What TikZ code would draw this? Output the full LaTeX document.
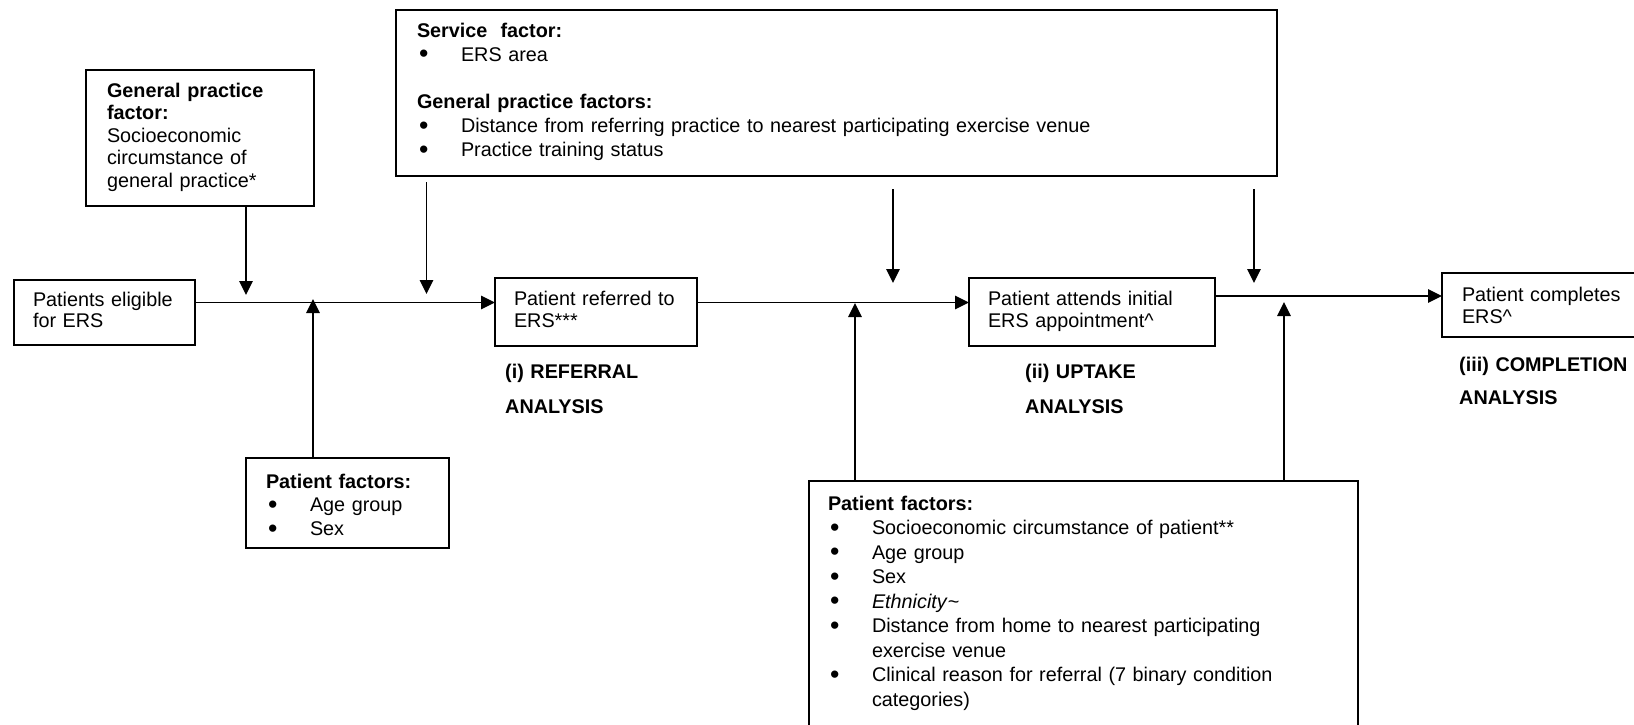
\documentclass[tikz,border=0pt]{standalone}
\usepackage{graphicx}
\usepackage{fontspec}
\setmainfont{Liberation Sans}
\usetikzlibrary{arrows.meta,calc}

% bullet line and continuation line inside the factor boxes
\newcommand{\blt}{\raisebox{-1.6pt}{\scalebox{1.35}{\textbullet}}}
\newcommand{\itm}[1]{\hspace*{2pt}\makebox[42pt][l]{\blt}#1}
\newcommand{\cont}[1]{\hspace*{44pt}#1}

\tikzset{
  frame/.style={draw, line width=1.5pt, anchor=north west, align=left,
    outer sep=0pt, inner ysep=13.5pt, text height=14pt,
    font=\fontsize{19.8}{23}\selectfont},
  flow/.style={line width=1.5pt, -{Triangle[length=14pt,width=13.5pt]}},
  stage/.style={anchor=north west, inner sep=0pt, text height=14pt,
    align=left, text width=220pt},
}

\begin{document}
\begin{tikzpicture}[x=1pt,y=-1pt]
\useasboundingbox (0,0) rectangle (1634,725);
\clip (0,0) rectangle (1634,725);

% factor boxes
\node[frame, text width=186pt, inner xsep=21pt, text depth=95pt,
      font=\fontsize{19.8}{22.5}\selectfont] (gp) at (86,70)
  {\textbf{General practice}\\\textbf{factor:}\\Socioeconomic\\circumstance of\\general practice*};

\node[frame, text width=839pt, inner xsep=21pt, text depth=125pt,
      font=\fontsize{19.8}{23.8}\selectfont] (svc) at (396,10)
  {\textbf{Service\ \ factor:}\\
   \itm{ERS area}\\[23.8pt]
   \textbf{General practice factors:}\\
   \itm{Distance from referring practice to nearest participating exercise venue}\\
   \itm{Practice training status}};

\node[frame, text width=163pt, inner xsep=20pt, inner ysep=16pt, text depth=44pt,
      font=\fontsize{19.8}{23.8}\selectfont] (pf1) at (246,458)
  {\textbf{Patient factors:}\\\itm{Age group}\\\itm{Sex}};

\node[frame, text width=511pt, inner xsep=19pt, inner ysep=15pt, text depth=216pt,
      font=\fontsize{19.8}{24.5}\selectfont] (pf2) at (809,481)
  {\textbf{Patient factors:}\\
   \itm{Socioeconomic circumstance of patient**}\\
   \itm{Age group}\\
   \itm{Sex}\\
   \itm{\textit{Ethnicity}\textasciitilde}\\
   \itm{Distance from home to nearest participating}\\
   \cont{exercise venue}\\
   \itm{Clinical reason for referral (7 binary condition}\\
   \cont{categories)}};

% pathway boxes
\node[frame, text width=143pt, inner xsep=19pt, inner ysep=12.5pt, text depth=26pt,
      font=\fontsize{19.8}{21}\selectfont] (elig) at (14,280)
  {Patients eligible\\for ERS};

\node[frame, text width=164pt, inner xsep=19pt, text depth=27pt,
      font=\fontsize{19.8}{22}\selectfont] (ref) at (495,278)
  {Patient referred to\\ERS***};

\node[frame, text width=208pt, inner xsep=19pt, text depth=27pt,
      font=\fontsize{19.8}{22}\selectfont] (att) at (969,278)
  {Patient attends initial\\ERS appointment\textasciicircum};

\node[frame, text width=170pt, inner xsep=20pt, inner ysep=14.5pt, text depth=21pt,
      font=\fontsize{19.8}{22}\selectfont] (comp) at (1442,273)
  {Patient completes\\ERS\textasciicircum};

% stage labels
\node[stage, font=\fontsize{19.8}{35}\selectfont\bfseries] (lab1) at (505,364)
  {(i) REFERRAL\\ANALYSIS};
\node[stage, font=\fontsize{19.8}{35}\selectfont\bfseries] (lab2) at (1025,364)
  {(ii) UPTAKE\\ANALYSIS};
\node[stage, font=\fontsize{19.8}{33}\selectfont\bfseries] (lab3) at (1459,357)
  {(iii) COMPLETION\\ANALYSIS};

% levels of the pathway and arrow tips
\coordinate (m1) at (0,302.5);
\coordinate (m2) at (0,296);
\coordinate (d1) at (246,295);
\coordinate (d2) at (426.5,294);
\coordinate (d3) at (893,283);
\coordinate (d4) at (1254,283);
\coordinate (u1) at (313,299);
\coordinate (u2) at (855,303);
\coordinate (u3) at (1284,302);

% main pathway
\draw[flow] (elig.east |- m1) -- (ref.west |- m1);
\draw[flow] (ref.east |- m1) -- (att.west |- m1);
\draw[flow] (att.east |- m2) -- (comp.west |- m2);

% factors acting on each step
\draw[flow] (gp.south -| d1) -- (d1);
\draw[flow] ($(svc.south -| d2)+(0,6)$) -- (d2);
\draw[flow] ($(svc.south -| d3)+(0,13)$) -- (d3);
\draw[flow] ($(svc.south -| d4)+(0,13)$) -- (d4);
\draw[flow] (pf1.north -| u1) -- (u1);
\draw[flow] (pf2.north -| u2) -- (u2);
\draw[flow] (pf2.north -| u3) -- (u3);
\end{tikzpicture}
\end{document}
